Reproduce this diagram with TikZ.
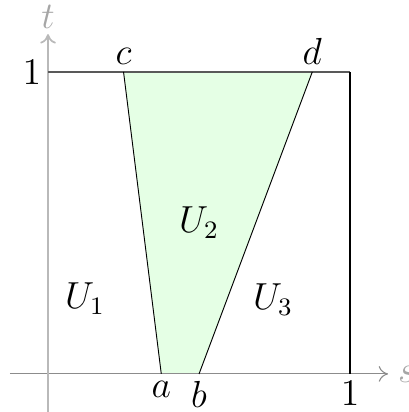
\documentclass[tikz,border=0pt]{standalone}
\usetikzlibrary{arrows.meta}
\begin{document}
\begin{tikzpicture}[x=96.2pt,y=96.2pt,
  axis/.style={->,>={To[length=3pt,width=5pt]},line width=0.35pt},
  lbl/.style={inner sep=2pt,font=\large}]
\useasboundingbox (-0.159,-0.126) rectangle (1.192,1.238);
\coordinate (O) at (0,0);
\coordinate (A) at (0.375,0);
\coordinate (B) at (0.5,0);
\coordinate (C) at (0.25,1);
\coordinate (D) at (0.875,1);
\coordinate (E) at (1,0);
\coordinate (F) at (1,1);
\coordinate (G) at (0,1);
\fill[green!10] (A) -- (B) -- (D) -- (C) -- cycle;
\draw[axis,gray!90] (-0.126,0) -- (1.126,0) coordinate (xend);
\draw[axis,gray!55,line width=0.55pt] (0,-0.13) -- (0,1.125) coordinate (yend);
\node[text=gray!70,anchor=west,inner sep=3pt,font=\large] (s) at (xend) {$s$};
\node[text=gray!70,anchor=south,inner sep=1.5pt,font=\large] (t) at (yend) {$t$};
\draw[black!65,line width=0.45pt] (G) -- (F);
\draw[black,line width=0.4pt] (F) -- (E);
\draw[line width=0.3pt] (A) -- (C);
\draw[line width=0.3pt] (B) -- (D);
\node[lbl,anchor=north] (la) at (A) {$a$};
\node[lbl,anchor=north] (lb) at (B) {$b$};
\node[lbl,anchor=north] (l1) at (E) {$1$};
\node[lbl,anchor=east] (l1y) at (G) {$1$};
\node[lbl,anchor=south] (lc) at (C) {$c$};
\node[lbl,anchor=south] (ld) at (D) {$d$};
\node[lbl] (u1) at (0.123,0.25) {$U_1$};
\node[lbl] (u2) at (0.5,0.5) {$U_2$};
\node[lbl] (u3) at (0.745,0.245) {$U_3$};
\end{tikzpicture}
\end{document}
